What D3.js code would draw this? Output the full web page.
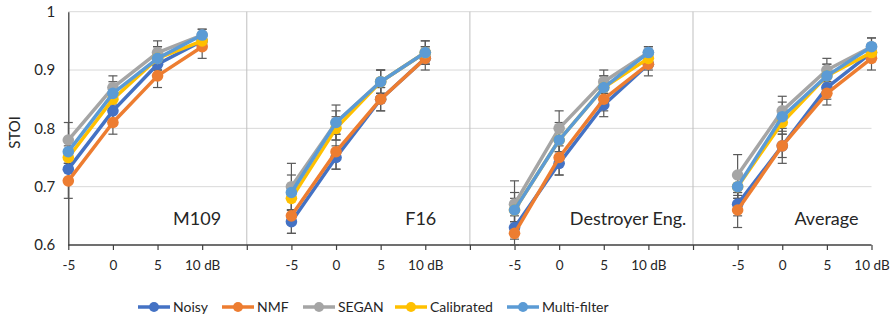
<!DOCTYPE html>
<html><head><meta charset="utf-8">
<script src="https://cdn.jsdelivr.net/npm/d3@7"></script>
<style>
html,body{margin:0;padding:0;background:#fff;}
svg{display:block;font-family:Lato,"Open Sans",sans-serif;}
</style></head>
<body>
<svg id="chart" width="895" height="321"></svg>
<script>
// ---------- DATA ----------
const groups = ["M109", "F16", "Destroyer Eng.", "Average"];
const snrLabels = ["-5", "0", "5", "10 dB"];
const yTicks = [0.6, 0.7, 0.8, 0.9, 1];
const seriesNames = ["Noisy", "NMF", "SEGAN", "Calibrated", "Multi-filter"];
const seriesColors = ["#4472C4", "#ED7D31", "#A5A5A5", "#FFC000", "#5B9BD5"];
// values: M109 (-5,0,5,10), F16, Destroyer Eng., Average
const noisy      = [0.73,0.83,0.91,0.95, 0.64,0.75,0.85,0.92, 0.63,0.74,0.84,0.91, 0.67,0.77,0.87,0.93];
const nmf        = [0.71,0.81,0.89,0.94, 0.65,0.76,0.85,0.92, 0.62,0.75,0.85,0.91, 0.66,0.77,0.86,0.92];
const segan      = [0.78,0.87,0.93,0.96, 0.70,0.81,0.88,0.93, 0.67,0.80,0.88,0.93, 0.72,0.83,0.90,0.94];
const calibrated = [0.75,0.85,0.92,0.95, 0.68,0.80,0.88,0.93, 0.66,0.78,0.87,0.92, 0.70,0.81,0.89,0.93];
const multi      = [0.76,0.86,0.92,0.96, 0.69,0.81,0.88,0.93, 0.66,0.78,0.87,0.93, 0.70,0.82,0.89,0.94];
// error bar half-widths (symmetric)
const noisyErr   = [0.02,0.02,0.02,0.01, 0.02,0.02,0.02,0.01, 0.02,0.02,0.02,0.01, 0.02,0.02,0.02,0.01];
const nmfErr     = [0.03,0.02,0.02,0.02, 0.03,0.03,0.02,0.02, 0.02,0.03,0.02,0.02, 0.03,0.03,0.02,0.02];
const seganErr   = [0.03,0.02,0.02,0.01, 0.04,0.03,0.02,0.02, 0.04,0.03,0.02,0.01, 0.035,0.025,0.02,0.015];
const calibErr   = [0.02,0.02,0.02,0.01, 0.02,0.02,0.02,0.01, 0.02,0.02,0.02,0.01, 0.02,0.02,0.02,0.01];
const multiErr   = [0.02,0.02,0.02,0.01, 0.03,0.02,0.02,0.02, 0.03,0.03,0.02,0.01, 0.02,0.025,0.02,0.015];

const seriesValues = [noisy, nmf, segan, calibrated, multi];
const seriesErrors = [noisyErr, nmfErr, seganErr, calibErr, multiErr];

// ---------- LAYOUT ----------
const svg = d3.select("#chart");
const plot = {left: 68.3, right: 871.5, top: 11.7, bottom: 245};
const labelDx = [19, 11, 38, -13];  // panel-label right edge offset from the "10 dB" slot

// slots: 4 categories per group, one blank separator slot between groups
const slots = [];
groups.forEach((g, gi) => {
  snrLabels.forEach((s, si) => slots.push({key: g + "|" + s, g: gi, s: si, label: s}));
  if (gi < groups.length - 1) slots.push({key: "sep" + gi, sep: true});
});
const x = d3.scalePoint().domain(slots.map(d => d.key)).range([plot.left, plot.right]);
const y = d3.scaleLinear().domain([0.6, 1]).range([plot.bottom, plot.top]);
const keyOf = i => groups[Math.floor(i / 4)] + "|" + snrLabels[i % 4];

// gridlines
svg.append("g").selectAll("line").data(yTicks.filter(t => t > 0.6)).join("line")
  .attr("x1", plot.left).attr("x2", plot.right)
  .attr("y1", d => y(d)).attr("y2", d => y(d))
  .attr("stroke", "#d9d9d9").attr("stroke-width", 1);

// separators
svg.append("g").selectAll("line").data(slots.filter(d => d.sep)).join("line")
  .attr("x1", d => x(d.key)).attr("x2", d => x(d.key))
  .attr("y1", plot.top).attr("y2", plot.bottom)
  .attr("stroke", "#bfbfbf").attr("stroke-width", 1);

// y axis
const yAxis = d3.axisLeft(y).tickValues(yTicks).tickFormat(d => d === 1 ? "1" : d3.format(".1f")(d)).tickSize(0).tickPadding(13);
const gy = svg.append("g").attr("transform", `translate(${plot.left},0)`).call(yAxis);
gy.select(".domain").attr("stroke", "#404040").attr("stroke-width", 1.3);
gy.selectAll("text").attr("font-size", 15).attr("fill", "#262626").attr("font-family", "Lato");

// x axis
const xAxis = d3.axisBottom(x).tickSize(5).tickPadding(10).tickFormat(k => { const s = slots.find(d => d.key === k); return s.sep ? "" : s.label; });
const gx = svg.append("g").attr("transform", `translate(0,${plot.bottom})`).call(xAxis);
gx.select(".domain").attr("stroke", "#404040").attr("stroke-width", 1.3).attr("d", `M${plot.left},0H${plot.right}`);
gx.selectAll(".tick line").attr("stroke", "#404040").attr("stroke-width", 1.2);
gx.selectAll("text").attr("font-size", 13.5).attr("fill", "#262626").attr("font-family", "Lato");

// y label
svg.append("text").attr("transform", `translate(20,${(plot.top + plot.bottom) / 2 + 4}) rotate(-90)`)
  .attr("text-anchor", "middle").attr("font-size", 15).attr("fill", "#262626").text("STOI");

// error bars (behind lines)
const eg = svg.append("g");
seriesValues.forEach((vals, si) => {
  vals.forEach((v, i) => {
    const e = seriesErrors[si][i];
    const cx = x(keyOf(i));
    eg.append("line").attr("x1", cx).attr("x2", cx).attr("y1", y(v - e)).attr("y2", y(v + e))
      .attr("stroke", "#595959").attr("stroke-width", 1.2);
    [v - e, v + e].forEach(t => eg.append("line").attr("x1", cx - 4.5).attr("x2", cx + 4.5)
      .attr("y1", y(t)).attr("y2", y(t)).attr("stroke", "#595959").attr("stroke-width", 1.2));
  });
});

// series lines + markers
const line = d3.line().x(d => x(d.k)).y(d => y(d.v));
seriesValues.forEach((vals, si) => {
  const g = svg.append("g");
  groups.forEach((grp, gi) => {
    const pts = snrLabels.map((s, j) => ({k: grp + "|" + s, v: vals[gi * 4 + j]}));
    g.append("path").attr("d", line(pts)).attr("fill", "none")
      .attr("stroke", seriesColors[si]).attr("stroke-width", 3.5).attr("stroke-linejoin", "round");
    g.selectAll(null).data(pts).join("circle")
      .attr("cx", d => x(d.k)).attr("cy", d => y(d.v)).attr("r", 5.8)
      .attr("fill", seriesColors[si]);
  });
});

// panel labels
groups.forEach((grp, gi) => {
  svg.append("text").attr("x", x(grp + "|10 dB") + labelDx[gi]).attr("y", 225)
    .attr("text-anchor", "end").attr("font-size", 18).attr("fill", "#262626").text(grp);
});

// legend
const legendX = [138, 222, 303, 395, 507];
const lg = svg.append("g");
seriesNames.forEach((n, i) => {
  const lx = legendX[i], ly = 307;
  lg.append("line").attr("x1", lx).attr("x2", lx + 32).attr("y1", ly).attr("y2", ly)
    .attr("stroke", seriesColors[i]).attr("stroke-width", 3.5);
  lg.append("circle").attr("cx", lx + 16).attr("cy", ly).attr("r", 5).attr("fill", seriesColors[i]);
  lg.append("text").attr("x", lx + 35).attr("y", ly).attr("dy", "0.35em")
    .attr("font-size", 14).attr("fill", "#262626").text(n);
});
</script>
</body></html>
